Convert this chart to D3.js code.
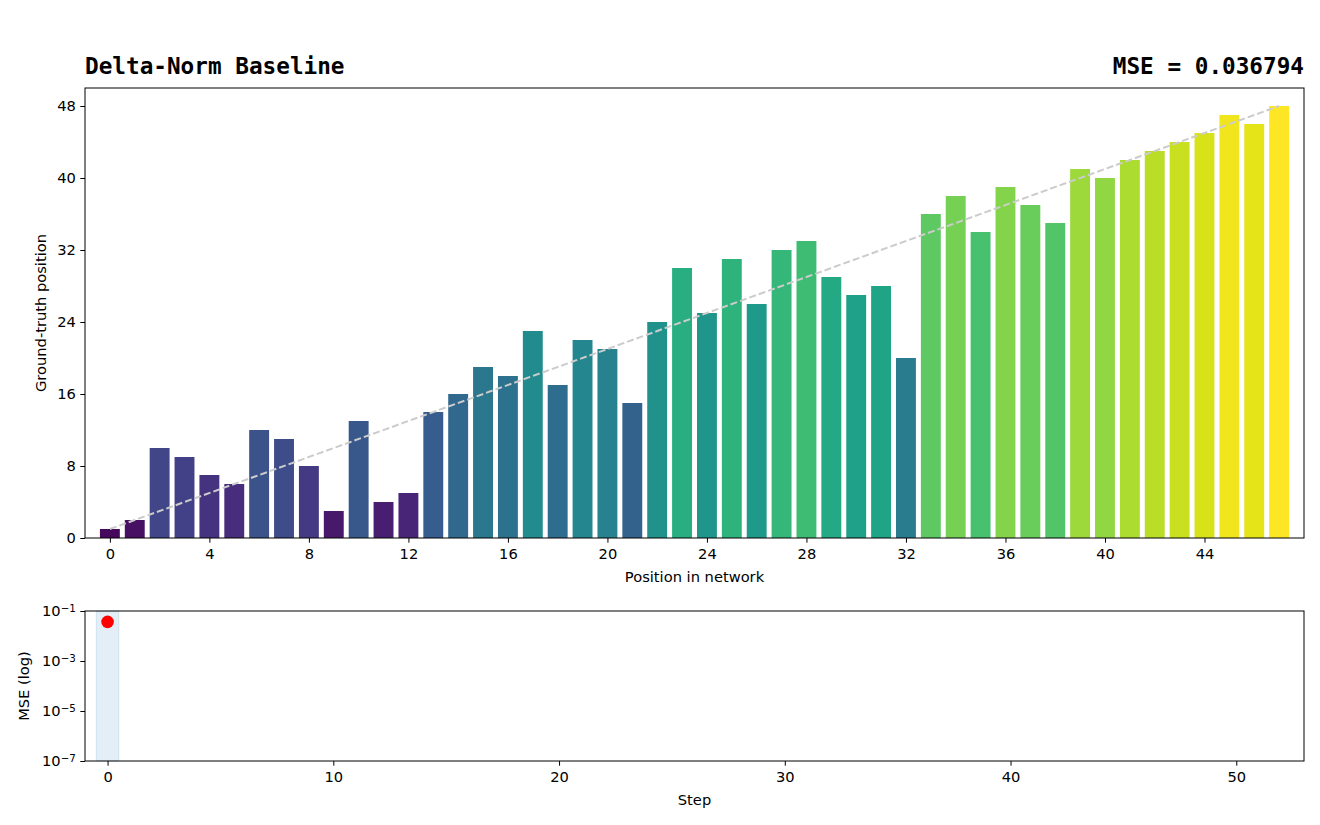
<!DOCTYPE html>
<html>
<head>
<meta charset="utf-8">
<script src="https://cdn.jsdelivr.net/npm/d3@7"></script>
<style>
  body { margin: 0; background: #fff; }
  svg text { font-family: "DejaVu Sans", sans-serif; fill: #000; }
  .title { font-family: "DejaVu Sans Mono", monospace; font-weight: bold; font-size: 22.7px; }
  .lbl { font-size: 14.67px; }
</style>
</head>
<body>
<script>
// bar chart data: ground-truth position for each network position
var positions = d3.range(48);
var truth = [1, 2, 10, 9, 7, 6, 12, 11, 8, 3, 13, 4, 5, 14, 16, 19, 18, 23, 17, 22, 21, 15, 24, 30,
             25, 31, 26, 32, 33, 29, 27, 28, 20, 36, 38, 34, 39, 37, 35, 41, 40, 42, 43, 44, 45, 47, 46, 48];
var yTicks = [0, 8, 16, 24, 32, 40, 48];
var xTicks = [0, 4, 8, 12, 16, 20, 24, 28, 32, 36, 40, 44];

// mse history
var steps = [0];
var mse = [0.036794];
var stepTicks = [0, 10, 20, 30, 40, 50];
var logTicks = [-1, -3, -5, -7];

var title = "Delta-Norm Baseline";
var mseText = "MSE = " + mse[mse.length - 1].toFixed(6);

var W = 1320, H = 825;
var svg = d3.select("body").append("svg").attr("width", W).attr("height", H);

var L = 85, R = 1304;
var top1 = 88, bot1 = 538;
var top2 = 611, bot2 = 761;

var tidy = function(s) {
  s.select(".domain").remove();
  s.attr("font-family", null).attr("font-size", null);
  s.selectAll(".tick text").attr("font-size", "14.67px");
  s.selectAll(".tick line").attr("stroke", "#000");
};

// ---- top panel
var x = d3.scaleLinear().domain([-1, 48]).range([L, R]);
var y = d3.scaleLinear().domain([0, 50]).range([bot1, top1]);
var color = function(v) { return d3.interpolateViridis(v / 48); };
var bw = x(0.8) - x(0);

var g1 = svg.append("g");
g1.selectAll("rect.bar")
  .data(positions)
  .enter().append("rect")
  .attr("class", "bar")
  .attr("x", function(i) { return x(i - 0.4); })
  .attr("width", bw)
  .attr("y", function(i) { return y(truth[i]); })
  .attr("height", function(i) { return y(0) - y(truth[i]); })
  .attr("fill", function(i) { return color(truth[i]); });

// ideal diagonal
g1.append("line")
  .attr("x1", x(0)).attr("y1", y(1))
  .attr("x2", x(47)).attr("y2", y(48))
  .attr("stroke", "#cccccc")
  .attr("stroke-width", 2)
  .attr("stroke-dasharray", "7,3");

g1.append("g").attr("transform", "translate(0," + bot1 + ")")
  .call(d3.axisBottom(x).tickValues(xTicks).tickSize(4.7).tickPadding(5.5).tickFormat(d3.format("d")))
  .call(tidy);
g1.append("g").attr("transform", "translate(" + L + ",0)")
  .call(d3.axisLeft(y).tickValues(yTicks).tickSize(4.7).tickPadding(4.5).tickFormat(d3.format("d")))
  .call(tidy);

g1.append("rect")
  .attr("x", L).attr("y", top1).attr("width", R - L).attr("height", bot1 - top1)
  .attr("fill", "none").attr("stroke", "#000").attr("stroke-width", 1);

g1.append("text").attr("class", "lbl")
  .attr("x", (L + R) / 2).attr("y", 582).attr("text-anchor", "middle")
  .text("Position in network");
g1.append("text").attr("class", "lbl")
  .attr("transform", "translate(46," + (top1 + bot1) / 2 + ") rotate(-90)")
  .attr("text-anchor", "middle")
  .text("Ground-truth position");

svg.append("text").attr("class", "title").attr("x", L).attr("y", 74).text(title);
svg.append("text").attr("class", "title").attr("x", R).attr("y", 74).attr("text-anchor", "end").text(mseText);

// ---- bottom panel
var x2 = d3.scaleLinear().domain([-1, 53]).range([L, R]);
var y2 = d3.scaleLog().domain([1e-7, 1e-1]).range([bot2, top2]);

var g2 = svg.append("g");
var cur = steps[steps.length - 1];
g2.append("rect")
  .attr("x", x2(cur - 0.5)).attr("width", x2(cur + 0.5) - x2(cur - 0.5))
  .attr("y", top2).attr("height", bot2 - top2)
  .attr("fill", "#1f77b4").attr("fill-opacity", 0.12)
  .attr("stroke", "#1f77b4").attr("stroke-opacity", 0.15);

g2.selectAll("circle.pt")
  .data(steps)
  .enter().append("circle")
  .attr("class", "pt")
  .attr("cx", function(d) { return x2(d); })
  .attr("cy", function(d, i) { return y2(mse[i]); })
  .attr("r", 6.3)
  .attr("fill", "#ff0000");

g2.append("g").attr("transform", "translate(0," + bot2 + ")")
  .call(d3.axisBottom(x2).tickValues(stepTicks).tickSize(4.7).tickPadding(5.5).tickFormat(d3.format("d")))
  .call(tidy);

var ly = g2.append("g").attr("transform", "translate(" + L + ",0)")
  .call(d3.axisLeft(y2).tickValues(logTicks.map(function(e) { return Math.pow(10, e); })).tickSize(4.7).tickPadding(4.5).tickFormat(""))
  .call(tidy);
ly.selectAll(".tick text").each(function(d) {
  var t = d3.select(this);
  var e = Math.round(Math.log10(d));
  t.append("tspan").text("10");
  t.append("tspan").attr("dy", "-0.45em").attr("font-size", "10.3px").text("\u2212" + Math.abs(e));
});

g2.append("rect")
  .attr("x", L).attr("y", top2).attr("width", R - L).attr("height", bot2 - top2)
  .attr("fill", "none").attr("stroke", "#000").attr("stroke-width", 1);

g2.append("text").attr("class", "lbl")
  .attr("x", (L + R) / 2).attr("y", 805).attr("text-anchor", "middle")
  .text("Step");
g2.append("text").attr("class", "lbl")
  .attr("transform", "translate(29," + (top2 + bot2) / 2 + ") rotate(-90)")
  .attr("text-anchor", "middle")
  .text("MSE (log)");
</script>
</body>
</html>
